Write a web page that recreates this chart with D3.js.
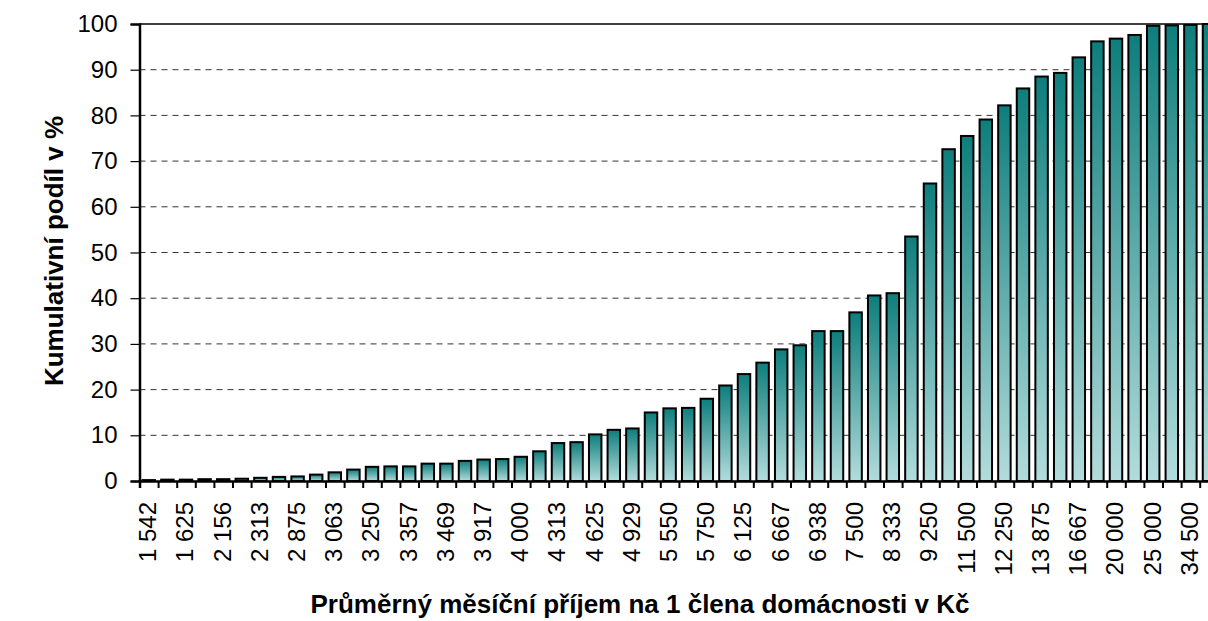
<!DOCTYPE html>
<html>
<head>
<meta charset="utf-8">
<script src="https://cdn.jsdelivr.net/npm/d3@7"></script>
<style>
  body { margin: 0; background: #fff; }
  svg { display: block; font-family: "Liberation Sans", Arial, sans-serif; }
</style>
</head>
<body>
<div id="graph"></div>
<script>
// Labels shown under every second bar (the others are not printed)
const tickLabels = ['1 542', '1 625', '2 156', '2 313', '2 875', '3 063', '3 250', '3 357', '3 469', '3 917',
  '4 000', '4 313', '4 625', '4 929', '5 550', '5 750', '6 125', '6 667', '6 938', '7 500',
  '8 333', '9 250', '11 500', '12 250', '13 875', '16 667', '20 000', '25 000', '34 500']

// Cumulative share in %, one value per bar (58 bars)
const values = [0.2, 0.3, 0.3, 0.4, 0.4, 0.5, 0.7, 0.9, 1.0, 1.4,
  1.9, 2.5, 3.1, 3.2, 3.2, 3.8, 3.8, 4.4, 4.7, 4.8,
  5.3, 6.5, 8.3, 8.5, 10.2, 11.2, 11.5, 15.0, 15.9, 16.0,
  18.0, 20.9, 23.4, 25.9, 28.8, 29.7, 32.8, 32.8, 36.9, 40.6,
  41.1, 53.5, 65.1, 72.6, 75.5, 79.1, 82.2, 85.9, 88.5, 89.3,
  92.7, 96.2, 96.8, 97.6, 99.6, 99.7, 99.8, 100]

const yTicks = [0, 10, 20, 30, 40, 50, 60, 70, 80, 90, 100]

const margin = { top: 24, left: 139.5 }
const step = 18.6
const width = values.length * step
const height = 457

const svg = d3.select('#graph')
  .append('svg')
  .attr('width', 1208)
  .attr('height', 621)

const defs = svg.append('defs')
const grad = defs.append('linearGradient')
  .attr('id', 'barGrad')
  .attr('x1', 0).attr('y1', 0).attr('x2', 0).attr('y2', 1)
grad.append('stop').attr('offset', '0%').attr('stop-color', '#0d7e7c')
grad.append('stop').attr('offset', '100%').attr('stop-color', '#b3dcdc')

const g = svg.append('g')
  .attr('transform', 'translate(' + margin.left + ',' + margin.top + ')')

const x = d3.scaleBand()
  .domain(d3.range(values.length))
  .range([0, width])
  .paddingInner(0.33)
  .paddingOuter(0.165)

const xEdges = d3.scaleLinear()
  .domain([0, values.length])
  .range([0, width])

const y = d3.scaleLinear()
  .domain([0, 100])
  .range([height, 0])

// Dashed gridlines
g.append('g')
  .selectAll('line')
  .data(yTicks.filter(d => d > 0 && d < 100))
  .join('line')
  .attr('x1', 0)
  .attr('x2', width)
  .attr('y1', d => y(d))
  .attr('y2', d => y(d))
  .attr('stroke', '#333')
  .attr('stroke-width', 1)
  .attr('stroke-dasharray', '6,5')

// Top border
g.append('line')
  .attr('x1', 0).attr('x2', width)
  .attr('y1', y(100)).attr('y2', y(100))
  .attr('stroke', '#000')
  .attr('stroke-width', 1.5)

// Bars
g.append('g')
  .selectAll('rect')
  .data(values)
  .join('rect')
  .attr('x', (d, i) => x(i))
  .attr('y', d => y(d))
  .attr('width', x.bandwidth())
  .attr('height', d => height - y(d))
  .attr('fill', 'url(#barGrad)')
  .attr('stroke', '#000')
  .attr('stroke-width', 2)

// Y axis
const yAxis = g.append('g')
  .call(d3.axisLeft(y).tickValues(yTicks).tickSize(9).tickPadding(13))
yAxis.select('.domain').attr('stroke-width', 2.5)
yAxis.selectAll('.tick line').attr('stroke-width', 1.2)
yAxis.selectAll('text')
  .style('font-size', '24px')
  .attr('fill', '#000')

// X axis: tick marks at every bar edge
const xTickAxis = g.append('g')
  .attr('transform', 'translate(0,' + height + ')')
  .call(d3.axisBottom(xEdges).tickValues(d3.range(values.length + 1)).tickFormat('').tickSize(7))
xTickAxis.select('.domain').attr('stroke-width', 2.5)
xTickAxis.selectAll('.tick line').attr('stroke-width', 2)

// X labels under every second bar
const xLabelAxis = g.append('g')
  .attr('transform', 'translate(0,' + height + ')')
  .call(d3.axisBottom(x)
    .tickValues(d3.range(0, values.length, 2))
    .tickFormat(i => tickLabels[i / 2] || '')
    .tickSize(0))
xLabelAxis.select('.domain').remove()
xLabelAxis.selectAll('text')
  .attr('transform', 'rotate(-90)')
  .attr('x', -21)
  .attr('y', -1)
  .attr('dy', '0.35em')
  .style('text-anchor', 'end')
  .style('font-size', '24px')
  .attr('fill', '#000')

// Axis titles
svg.append('text')
  .attr('transform', 'translate(63,251) rotate(-90)')
  .attr('text-anchor', 'middle')
  .style('font-size', '26px')
  .style('font-weight', 'bold')
  .text('Kumulativní podíl v %')

svg.append('text')
  .attr('x', 640)
  .attr('y', 613)
  .attr('text-anchor', 'middle')
  .style('font-size', '26px')
  .style('font-weight', 'bold')
  .text('Průměrný měsíční příjem na 1 člena domácnosti v Kč')
</script>
</body>
</html>
